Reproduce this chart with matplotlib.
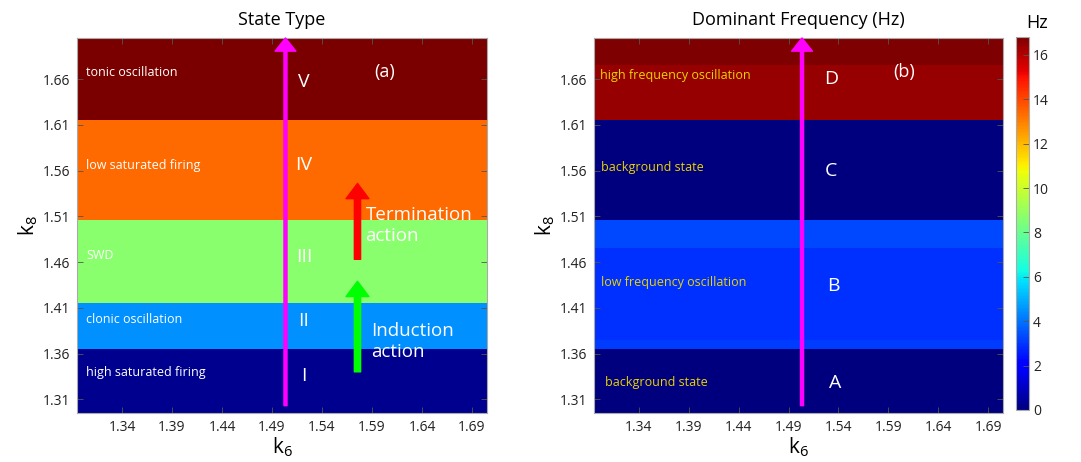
import numpy as np
import matplotlib
matplotlib.use("Agg")
import matplotlib.pyplot as plt
from matplotlib.colors import ListedColormap

plt.rcParams['font.family'] = ['Open Sans', 'DejaVu Sans']
plt.rcParams['mathtext.fontset'] = 'custom'
plt.rcParams['mathtext.rm'] = 'Open Sans'

# parameter grid (k6 on x, k8 on y)
k6 = np.round(np.arange(1.30, 1.701, 0.01), 2)
k8 = np.round(np.arange(1.30, 1.701, 0.01), 2)
tick_vals = [1.34, 1.39, 1.44, 1.49, 1.54, 1.59, 1.64, 1.69]
ytick_vals = [1.31, 1.36, 1.41, 1.46, 1.51, 1.56, 1.61, 1.66]

# state type bands: upper edge of k8 for each state (I..V)
state_upper = [1.36, 1.41, 1.50, 1.61, 1.70]
state_names = ["high saturated firing", "clonic oscillation", "SWD",
               "low saturated firing", "tonic oscillation"]
state_roman = ["I", "II", "III", "IV", "V"]
state_colors = ["#00008f", "#0090ff", "#8aff6e", "#ff6a00", "#7a0000"]

# dominant frequency bands (Hz): upper edge of k8 and value
freq_upper = [1.36, 1.37, 1.47, 1.50, 1.61, 1.67, 1.70]
freq_vals = [0.0, 3.1, 2.9, 3.3, 0.0, 16.45, 16.8]
freq_names = ["background state", "low frequency oscillation",
              "background state", "high frequency oscillation"]
freq_letters = ["A", "B", "C", "D"]

state_grid = np.zeros((len(k8), len(k6)))
freq_grid = np.zeros((len(k8), len(k6)))
for i, v in enumerate(k8):
    state_grid[i, :] = next(j for j, u in enumerate(state_upper) if v <= u + 1e-9) + 1
    freq_grid[i, :] = freq_vals[next(j for j, u in enumerate(freq_upper) if v <= u + 1e-9)]

ext = [k6[0] - 0.005, k6[-1] + 0.005, k8[0] - 0.005, k8[-1] + 0.005]

fig = plt.figure(figsize=(10.81, 4.62), dpi=100)
ax1 = fig.add_axes([0.0712, 0.1061, 0.3793, 0.8117])
ax2 = fig.add_axes([0.5495, 0.1061, 0.3784, 0.8117])
cax = fig.add_axes([0.9399, 0.1126, 0.012, 0.807])

ax1.imshow(state_grid, extent=ext, origin="lower", aspect="auto",
           cmap=ListedColormap(state_colors), vmin=0.5, vmax=5.5,
           interpolation="nearest")
im2 = ax2.imshow(freq_grid, extent=ext, origin="lower", aspect="auto",
                 cmap="jet", vmin=0, vmax=16.8, interpolation="nearest")

for ax, title in [(ax1, "State Type"), (ax2, "Dominant Frequency (Hz)")]:
    ax.set_xlim(ext[0], ext[1])
    ax.set_ylim(ext[2], ext[3])
    ax.set_xticks(tick_vals)
    ax.set_yticks(ytick_vals)
    ax.set_xticklabels([f"{t:.2f}" for t in tick_vals])
    ax.set_yticklabels([f"{t:.2f}" for t in ytick_vals])
    ax.tick_params(direction="in", length=4, width=0.6, top=True, right=True,
                   labelsize=10, colors="#555555", labelcolor="#222222", pad=5)
    for s in ax.spines.values():
        s.set_color("#aaaaaa")
        s.set_linewidth(0.8)
    ax.set_title(title, fontsize=13, pad=9)
    ax.set_xlabel(r"$\mathregular{k_6}$", fontsize=15, labelpad=0)
    ax.set_ylabel(r"$\mathregular{k_8}$", fontsize=15, labelpad=2)
    # vertical scan path
    ax.annotate("", xy=(1.5035, ext[3]), xytext=(1.5035, 1.303),
                arrowprops=dict(arrowstyle="simple,head_width=1.5,head_length=0.95,tail_width=0.22",
                                color="#ff00ff", mutation_scale=10, shrinkA=0, shrinkB=0),
                annotation_clip=False)

# panel (a) texts
lab_y = [1.339, 1.397, 1.467, 1.566, 1.667]
rom_y = [1.335, 1.396, 1.465, 1.566, 1.657]
for name, rom, ly, ry in zip(state_names, state_roman, lab_y, rom_y):
    ax1.text(1.3045, ly, name, color="white", fontsize=9, ha="left", va="center")
    ax1.text(1.522, ry, rom, color="white", fontsize=14, ha="center", va="center")
ax1.text(1.603, 1.668, "(a)", color="white", fontsize=13, ha="center", va="center")

ax1.annotate("", xy=(1.5755, 1.546), xytext=(1.5755, 1.463),
             arrowprops=dict(arrowstyle="simple,head_width=1.65,head_length=1.1,tail_width=0.45",
                             color="#ff0000", mutation_scale=10, shrinkA=0, shrinkB=0))
ax1.annotate("", xy=(1.5755, 1.439), xytext=(1.5755, 1.340),
             arrowprops=dict(arrowstyle="simple,head_width=1.65,head_length=1.1,tail_width=0.45",
                             color="#00ff00", mutation_scale=10, shrinkA=0, shrinkB=0))
ax1.text(1.5835, 1.500, "Termination\naction", color="white", fontsize=13.5,
         ha="left", va="center", linespacing=1.25)
ax1.text(1.5895, 1.373, "Induction\naction", color="white", fontsize=13.5,
         ha="left", va="center", linespacing=1.2)

# panel (b) texts
fl_x = [1.306, 1.3025, 1.3025, 1.3015]
fl_y = [1.328, 1.438, 1.563, 1.664]
let_x = [1.537, 1.535, 1.532, 1.533]
let_y = [1.328, 1.434, 1.560, 1.660]
for name, let, x, y, lx, ly in zip(freq_names, freq_letters, fl_x, fl_y, let_x, let_y):
    ax2.text(x, y, name, color="#e8d400", fontsize=9, ha="left", va="center")
    ax2.text(lx, ly, let, color="white", fontsize=14, ha="center", va="center")
ax2.text(1.606, 1.668, "(b)", color="white", fontsize=13, ha="center", va="center")

cb = fig.colorbar(im2, cax=cax, ticks=np.arange(0, 17, 2))
cb.outline.set_edgecolor("#aaaaaa")
cb.outline.set_linewidth(0.8)
cax.tick_params(direction="in", length=4, width=0.6, labelsize=10,
                colors="#555555", labelcolor="#222222", pad=3)
fig.text(0.959, 0.950, "Hz", fontsize=13, ha="center", va="center")

fig.savefig("out.png", dpi=100)
